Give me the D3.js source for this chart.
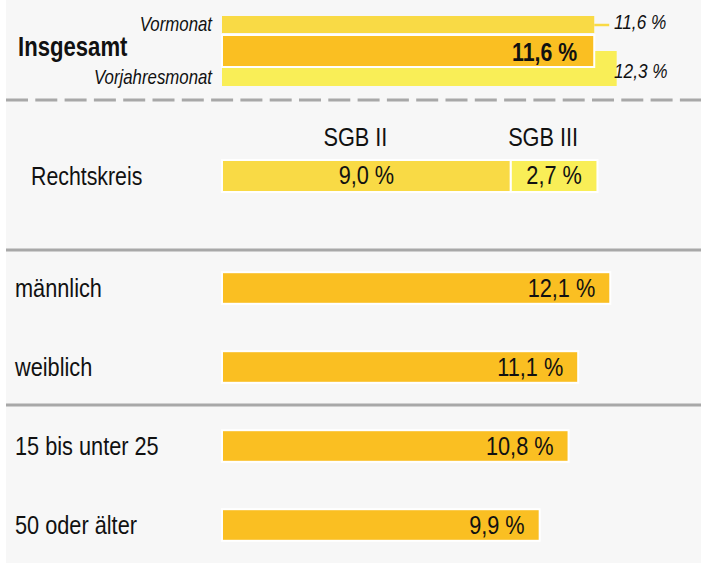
<!DOCTYPE html>
<html>
<head>
<meta charset="utf-8">
<script src="https://cdn.jsdelivr.net/npm/d3@7"></script>
<style>
body { margin: 0; background: #fff; }
text { font-family: "Liberation Sans", Arial, sans-serif; fill: #111; }
</style>
</head>
<body>
<div id="chart"></div>
<script>
// data
var overviewLabels = ["Vormonat", "Insgesamt", "Vorjahresmonat"];
var overviewValues = [11.6, 11.6, 12.3];

var rkLabel = "Rechtskreis";
var rkCategories = ["SGB II", "SGB III"];
var rkValues = [9.0, 2.7];

var groupCategories = ["männlich", "weiblich", "15 bis unter 25", "50 oder älter"];
var groupValues = [12.1, 11.1, 10.8, 9.9];

var colors = { orange: "#fabf22", gold: "#f9da45", light: "#f9ee57", rule: "#a8a8a8" };

var width = 701, height = 563;
var squeeze = 0.82; // narrow type, like Arial Narrow

function fmt(v) { return d3.format(".1f")(v).replace(".", ",") + " %"; }

// condensed text: Liberation Sans squeezed horizontally
function label(parent, px, py, str, opts) {
    opts = opts || {};
    var t = parent.append("g")
        .attr("transform", "translate(" + px + "," + py + ") scale(" + squeeze + ",1)")
        .append("text")
        .attr("text-anchor", opts.anchor || "start")
        .attr("font-size", (opts.size || 26.5) + "px")
        .text(str);
    if (opts.italic) t.attr("font-style", "italic");
    if (opts.bold) t.attr("font-weight", "bold");
    return t;
}

var svg = d3.select("#chart").append("svg")
    .attr("width", width)
    .attr("height", height);

svg.append("rect")
    .attr("x", 6).attr("y", 0)
    .attr("width", width - 6).attr("height", height)
    .attr("fill", "#f7f7f7");

var x = d3.scaleLinear()
    .domain([0, 12.3])
    .range([222, 616.7]);

// --- overview (Insgesamt) ---
var head = svg.append("g");

// Vorjahresmonat bar (behind)
head.append("rect")
    .attr("x", x(0)).attr("y", 51)
    .attr("width", x(overviewValues[2]) - x(0)).attr("height", 35)
    .attr("fill", colors.light);

// Vormonat bar
head.append("rect")
    .attr("x", x(0)).attr("y", 16)
    .attr("width", x(overviewValues[0]) - x(0)).attr("height", 17)
    .attr("fill", colors.gold);

head.append("line")
    .attr("x1", x(overviewValues[0])).attr("x2", x(overviewValues[0]) + 15)
    .attr("y1", 25).attr("y2", 25)
    .attr("stroke", colors.gold).attr("stroke-width", 2.5);

// Insgesamt bar
head.append("rect")
    .attr("x", x(0)).attr("y", 35)
    .attr("width", x(overviewValues[1]) - x(0)).attr("height", 32)
    .attr("fill", colors.orange)
    .attr("stroke", "#fff").attr("stroke-width", 2);

label(head, 212, 31, overviewLabels[0], { anchor: "end", italic: true, size: 20.5 });
label(head, 18, 56, overviewLabels[1], { bold: true, size: 27 });
label(head, 212, 84, overviewLabels[2], { anchor: "end", italic: true, size: 20.5 });
label(head, x(overviewValues[1]) - 17, 61, fmt(overviewValues[1]), { anchor: "end", bold: true, size: 26 });
label(head, 614, 29, fmt(overviewValues[0]), { italic: true, size: 21 });
label(head, 614, 78, fmt(overviewValues[2]), { italic: true, size: 21 });

// dashed rule
svg.append("line")
    .attr("x1", 6).attr("x2", width)
    .attr("y1", 100).attr("y2", 100)
    .attr("stroke", colors.rule).attr("stroke-width", 3)
    .attr("stroke-dasharray", "22,7.3");

// --- Rechtskreis (stacked) ---
var rk = svg.append("g");
var starts = [0];
rkValues.forEach(function(v, i) { starts.push(starts[i] + v); });
var rkFill = [colors.gold, colors.light];

rk.selectAll(".rk")
    .data(rkValues)
    .enter().append("rect")
    .attr("class", "rk")
    .attr("x", function(d, i) { return x(starts[i]); })
    .attr("y", 160)
    .attr("width", function(d) { return x(d) - x(0); })
    .attr("height", 32)
    .attr("fill", function(d, i) { return rkFill[i]; })
    .attr("stroke", "#fff").attr("stroke-width", 2);

rkValues.forEach(function(d, i) {
    var mid = (x(starts[i]) + x(starts[i + 1])) / 2;
    label(rk, mid, 184, fmt(d), { anchor: "middle" });
    label(rk, mid - 11, 146, rkCategories[i], { anchor: "middle" });
});

label(rk, 31, 185, rkLabel, { size: 26 });

// solid rules
svg.selectAll(".rule")
    .data([250, 405])
    .enter().append("line")
    .attr("class", "rule")
    .attr("x1", 6).attr("x2", width)
    .attr("y1", function(d) { return d; }).attr("y2", function(d) { return d; })
    .attr("stroke", colors.rule).attr("stroke-width", 3);

// --- groups ---
var y = d3.scaleBand()
    .domain(groupCategories)
    .range([248.5, 564.5])
    .paddingInner(0.6)
    .paddingOuter(0.3);

var groups = svg.append("g");

groups.selectAll(".bar")
    .data(groupValues)
    .enter().append("rect")
    .attr("class", "bar")
    .attr("x", x(0))
    .attr("y", function(d, i) { return y(groupCategories[i]); })
    .attr("width", function(d) { return x(d) - x(0); })
    .attr("height", y.bandwidth())
    .attr("fill", colors.orange)
    .attr("stroke", "#fff").attr("stroke-width", 2);

groupCategories.forEach(function(c, i) {
    var base = y(c) + y.bandwidth() / 2 + 9;
    label(groups, x(groupValues[i]) - 15, base, fmt(groupValues[i]), { anchor: "end" });
    label(groups, 15, base, c);
});
</script>
</body>
</html>
